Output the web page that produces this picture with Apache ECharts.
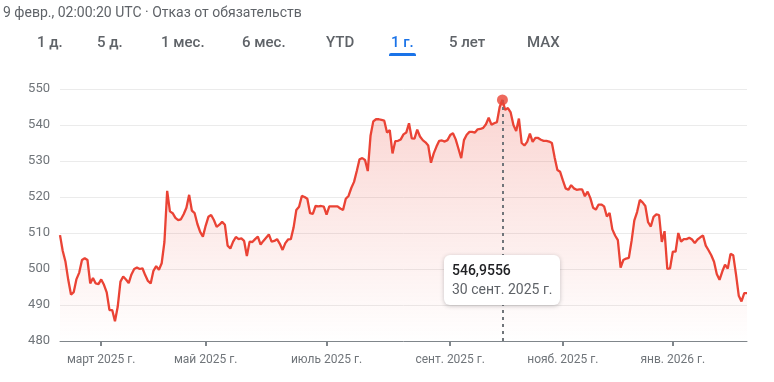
<!DOCTYPE html>
<html><head><meta charset="utf-8">
<script src="https://cdn.jsdelivr.net/npm/echarts@6/dist/echarts.min.js"></script>
<style>html,body{margin:0;padding:0;background:#fff}#c{width:774px;height:382px}</style>
</head><body><div id="c"></div>
<script>
const headerText = '9 февр., 02:00:20 UTC · Отказ от обязательств';
const tabs = ['1 д.', '5 д.', '1 мес.', '6 мес.', 'YTD', '1 г.', '5 лет', 'MAX'];
const activeTab = 5;
const values = [
  509.4, 505.0, 502.0, 497.0, 492.9, 493.6, 497.2, 499.0, 502.5, 503.0,
  502.5, 496.0, 497.5, 496.0, 495.8, 497.1, 495.6, 493.5, 488.6, 488.6,
  485.5, 489.5, 496.5, 497.9, 497.1, 496.1, 498.5, 500.0, 500.4, 500.0,
  500.2, 498.3, 496.7, 496.0, 499.5, 500.8, 499.8, 501.6, 507.5, 521.7,
  516.0, 515.5, 514.2, 513.6, 513.8, 515.2, 517.0, 520.6, 516.2, 515.5,
  512.5, 510.3, 509.0, 512.0, 514.5, 515.0, 513.6, 511.7, 512.3, 513.1,
  512.3, 506.5, 505.7, 507.6, 508.9, 508.3, 508.5, 507.8, 503.6, 507.6,
  507.5, 508.3, 509.0, 506.8, 507.8, 508.7, 509.6, 507.6, 507.8, 508.3,
  507.0, 505.3, 507.2, 508.2, 508.3, 511.5, 516.4, 517.3, 520.3, 520.0,
  519.5, 515.5, 515.3, 517.5, 517.4, 517.5, 517.3, 515.1, 517.4, 517.4,
  517.4, 517.4, 516.8, 516.4, 519.5, 520.3, 522.5, 524.2, 527.2, 530.5,
  530.8, 530.3, 527.2, 537.0, 541.0, 541.6, 541.6, 541.4, 541.2, 537.9,
  538.6, 532.1, 535.5, 535.6, 536.0, 537.4, 537.9, 540.5, 536.3, 536.2,
  538.7, 536.8, 535.8, 535.2, 534.3, 529.5, 532.1, 534.0, 535.6, 535.7,
  535.4, 535.8, 537.2, 537.7, 536.0, 533.4, 530.8, 535.8, 537.3, 538.1,
  538.1, 537.9, 538.8, 538.9, 539.2, 540.2, 542.0, 540.1, 540.5, 540.8,
  545.0, 546.9556, 544.2, 544.7, 543.5, 540.0, 538.3, 541.8, 535.0, 534.3,
  535.3, 537.6, 535.3, 536.4, 536.4, 535.9, 535.6, 535.6, 535.4, 535.0,
  531.0, 527.5, 527.0, 524.6, 522.4, 522.0, 523.3, 522.4, 522.0, 522.1,
  522.1, 520.2, 521.5, 519.7, 517.0, 516.5, 517.9, 517.9, 517.4, 514.6,
  515.6, 511.0, 509.3, 508.0, 500.4, 502.5, 502.9, 503.1, 507.8, 513.5,
  515.8, 519.2, 518.5, 517.5, 513.0, 511.8, 514.5, 515.2, 515.0, 507.5,
  510.5, 500.0, 500.2, 504.8, 504.8, 510.0, 507.6, 508.3, 508.3, 508.7,
  508.2, 507.2, 508.2, 508.8, 509.3, 506.5, 505.2, 503.8, 502.0, 498.6,
  497.0, 499.3, 501.2, 500.1, 504.2, 503.8, 498.5, 492.6, 491.0, 493.3,
  493.3
];
const tickIndex = [15, 53, 97, 142, 183, 223];
const tickLabels = ['март 2025 г.', 'май 2025 г.', 'июль 2025 г.', 'сент. 2025 г.', 'нояб. 2025 г.', 'янв. 2026 г.'];
const yMin = 480, yMax = 550, yStep = 10;
const peakIndex = 161;
const peakDate = '30 сент. 2025 г.';

const categories = values.map((v, i) => String(i));
const isTick = (i) => tickIndex.indexOf(i) >= 0;
const tabX = [37, 97, 161, 242, 326, 391, 449, 527];

const chart = echarts.init(document.getElementById('c'), null, {renderer: 'canvas'});
const graphics = [{
  type: 'text', left: 3, top: 6,
  style: {text: headerText, fill: '#5f6368', font: '14px Roboto'}
}];
tabs.forEach((t, i) => {
  graphics.push({
    type: 'text', left: tabX[i], top: 36,
    style: {text: t, fill: i === activeTab ? '#1a73e8' : '#5f6368', font: '500 15px Roboto'}
  });
});
graphics.push({type: 'rect', left: 389, top: 53, shape: {width: 27, height: 3, r: [2, 2, 0, 0]}, style: {fill: '#1a73e8'}});

chart.setOption({
  animation: false,
  grid: {left: 60, right: 27, top: 89, bottom: 41, containLabel: false},
  graphic: graphics,
  tooltip: {
    trigger: 'item', triggerOn: 'none', alwaysShowContent: true, transitionDuration: 0,
    backgroundColor: '#fff', borderWidth: 0, padding: [6, 8],
    extraCssText: 'box-shadow:0 1px 4px rgba(60,64,67,0.3);border-radius:6px;',
    position: function (point, params, dom, rect, size) {
      return [point[0] - size.contentSize[0] / 2, 255];
    },
    formatter: function (p) {
      const v = String(p.value[1]).replace('.', ',');
      return '<div style="font:500 14px Roboto;color:#202124;line-height:19px">' + v + '</div>' +
             '<div style="font:14px Roboto;color:#5f6368;line-height:19px">' + peakDate + '</div>';
    }
  },
  xAxis: {
    type: 'category', data: categories, boundaryGap: false,
    axisLine: {show: true, lineStyle: {color: '#80868b', width: 1}},
    axisTick: {show: true, interval: (i) => isTick(i), length: 5, lineStyle: {color: '#80868b', width: 2}},
    axisLabel: {
      interval: (i) => isTick(i), margin: 13,
      formatter: (val, i) => tickLabels[tickIndex.indexOf(Number(val))] || '',
      color: '#70757a', fontSize: 12, fontFamily: 'Roboto'
    },
    splitLine: {show: false}
  },
  yAxis: {
    type: 'value', min: yMin, max: yMax, interval: yStep,
    axisLine: {show: false}, axisTick: {show: false},
    axisLabel: {color: '#70757a', fontSize: 13, fontFamily: 'Roboto', margin: 10},
    splitLine: {lineStyle: {color: '#ebebeb', width: 1}}
  },
  series: [{
    type: 'line', data: values, showSymbol: false, symbol: 'none', smooth: false,
    lineStyle: {color: '#ea4335', width: 2.3},
    areaStyle: {
      color: new echarts.graphic.LinearGradient(0, 0, 0, 1, [
        {offset: 0, color: 'rgba(234,67,53,0.32)'},
        {offset: 1, color: 'rgba(234,67,53,0.0)'}
      ])
    },
    markLine: {
      silent: true, symbol: ['none', 'none'], label: {show: false},
      lineStyle: {color: '#70757a', width: 2, type: [3, 4]},
      data: [[{coord: [String(peakIndex), values[peakIndex]]}, {coord: [String(peakIndex), yMin]}]]
    },
    z: 2
  }, {
    type: 'scatter', data: [[String(peakIndex), values[peakIndex]]],
    symbolSize: 11, itemStyle: {color: '#ea4335'}, z: 5
  }]
});
chart.dispatchAction({type: 'showTip', seriesIndex: 1, dataIndex: 0});
</script>
</body></html>
